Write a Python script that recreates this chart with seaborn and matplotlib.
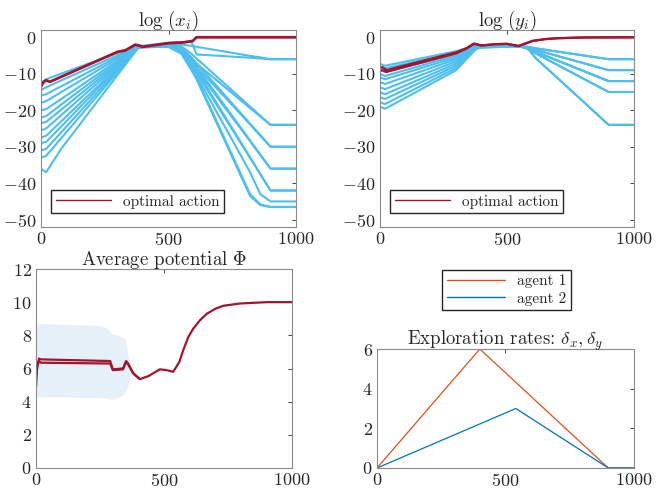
import numpy as np
import pandas as pd
import matplotlib
matplotlib.use("Agg")
import matplotlib.pyplot as plt
import seaborn as sns

# ---------------- data ----------------
RED = "#A2142F"
LBLUE = "#4DBEEE"

# top-left: log(x_i)
T_XB = [0, 20, 80, 380, 400, 500, 550, 590, 610, 820, 860, 900, 1000]
X_BLUE = [
    [-12.5, -11.5, -9.95, -2.2, -2.3, -1.5, -1.3, -1.2, -4.7, -5.6, -5.8, -6.0, -6.0],
    [-14.5, -13.7, -11.8, -2.4, -2.5, -1.8, -2.0, -2.35, -2.6, -5.1, -5.5, -6.0, -6.0],
    [-16.0, -15.6, -13.4, -2.5, -2.5, -1.9, -3.0, -6.0, -7.2, -19.4, -21.7, -24.0, -24.0],
    [-18.0, -17.5, -15.0, -2.5, -2.5, -2.0, -2.5, -4.5, -5.8, -19.0, -21.5, -24.0, -24.0],
    [-20.0, -19.7, -16.9, -2.6, -2.5, -2.1, -3.2, -6.5, -8.0, -23.9, -27.0, -30.0, -30.0],
    [-22.0, -21.6, -18.4, -2.6, -2.6, -2.2, -2.8, -5.5, -7.1, -23.7, -26.8, -30.0, -30.0],
    [-23.5, -23.2, -19.8, -2.7, -2.6, -2.3, -3.5, -7.0, -8.9, -28.5, -32.3, -36.0, -36.0],
    [-25.5, -25.0, -21.3, -2.7, -2.6, -2.4, -3.0, -6.2, -8.1, -28.3, -32.1, -36.0, -36.0],
    [-27.5, -27.0, -23.0, -2.8, -2.7, -2.5, -3.8, -7.5, -9.7, -33.1, -37.5, -42.0, -42.0],
    [-29.0, -28.7, -24.4, -2.8, -2.7, -2.5, -3.3, -6.8, -9.1, -32.9, -37.5, -42.0, -42.0],
    [-31.0, -30.6, -26.0, -2.9, -2.7, -2.6, -4.0, -8.0, -10.5, -37.0, -43.0, -45.0, -45.0],
    [-33.0, -32.5, -27.6, -3.0, -2.7, -2.6, -4.5, -9.0, -11.5, -43.5, -46.0, -46.5, -46.5],
    [-36.0, -37.0, -30.5, -3.0, -2.7, -2.6, -4.2, -8.5, -11.0, -43.0, -45.8, -46.5, -46.5],
]
T_XR = [0, 10, 20, 35, 300, 330, 370, 400, 500, 560, 595, 610, 1000]
X_RED = [-13.5, -12.3, -11.8, -12.2, -4.0, -3.6, -2.0, -2.6, -1.6, -1.4, -1.0, 0.0, 0.0]

# top-right: log(y_i)
T_YB = [0, 20, 300, 380, 400, 500, 550, 580, 610, 900, 1000]
Y_BLUE = [
    [-7.3, -7.8, -3.8, -2.2, -2.3, -2.0, -2.4, -2.6, -3.0, -6.0, -6.0],
    [-8.0, -8.5, -4.2, -2.3, -2.4, -2.1, -2.4, -2.8, -3.4, -9.0, -9.0],
    [-9.0, -9.5, -4.6, -2.4, -2.4, -2.2, -2.5, -3.0, -3.9, -12.0, -12.0],
    [-10.1, -10.6, -5.0, -2.5, -2.5, -2.3, -2.5, -3.1, -4.3, -15.0, -15.0],
    [-11.0, -11.5, -5.5, -2.6, -2.5, -2.3, -2.5, -2.8, -5.5, -24.0, -24.0],
    [-12.3, -12.8, -6.0, -2.7, -2.6, -2.4, -2.4, -2.6, -3.0, -6.0, -6.0],
    [-13.7, -14.2, -6.6, -2.8, -2.6, -2.4, -2.4, -2.8, -3.4, -9.0, -9.0],
    [-15.1, -15.6, -7.2, -2.9, -2.7, -2.5, -2.5, -3.0, -3.9, -12.0, -12.0],
    [-16.4, -16.9, -7.8, -3.0, -2.7, -2.5, -2.5, -3.1, -4.3, -15.0, -15.0],
    [-17.8, -18.3, -8.4, -3.0, -2.8, -2.6, -2.5, -2.8, -5.5, -24.0, -24.0],
    [-19.0, -19.6, -9.0, -3.1, -2.8, -2.6, -2.5, -3.0, -3.9, -12.0, -12.0],
]
T_YR = [0, 10, 25, 300, 340, 370, 400, 450, 500, 545, 600, 650, 700, 800, 1000]
Y_RED_1 = [-8.4, -8.2, -9.0, -4.1, -3.0, -1.7, -2.2, -1.9, -1.8, -2.4, -1.0, -0.5, -0.25, -0.05, 0.0]
Y_RED_2 = [-9.2, -9.0, -9.5, -4.4, -3.1, -1.8, -2.3, -1.9, -1.8, -2.4, -1.0, -0.5, -0.25, -0.05, 0.0]

# bottom-left: average potential
T_PHI = [0, 5, 12, 20, 290, 300, 340, 345, 352, 360, 380, 406, 440, 484, 510, 536,
         560, 575, 595, 614, 640, 667, 700, 731, 797, 900, 1000]
PHI = [4.9, 6.2, 6.6, 6.55, 6.45, 5.95, 6.0, 6.2, 6.45, 6.3, 5.7, 5.36, 5.55, 5.95, 5.9, 5.8,
       6.4, 7.1, 7.9, 8.4, 8.9, 9.3, 9.6, 9.78, 9.92, 10.0, 10.0]
T_PHI2 = [0, 5, 12, 20, 290, 300, 340, 345, 352, 360, 380, 406]
PHI2 = [5.6, 6.1, 6.45, 6.35, 6.3, 5.9, 5.95, 6.15, 6.4, 6.25, 5.7, 5.36]
T_BAND = [0, 3, 8, 20, 250, 280, 295, 340, 348, 352, 360, 368, 372]
BAND_HI = [6.0, 8.5, 8.7, 8.7, 8.6, 8.4, 8.1, 7.9, 7.8, 7.3, 6.7, 6.1, 5.9]
BAND_LO = [4.9, 4.4, 4.3, 4.3, 4.25, 4.2, 4.1, 4.4, 4.6, 4.7, 5.0, 5.5, 5.9]

# bottom-right: exploration rates
T_RATE = [0, 400, 540, 900, 1000]
RATE_1 = [0.0, 6.0, 4.32, 0.0, 0.0]
RATE_2 = [0.0, 2.22, 3.0, 0.0, 0.0]

# ---------------- style ----------------
sns.set_style("white")
plt.rcParams["font.family"] = ["cmr10", "DejaVu Serif"]
plt.rcParams["mathtext.fontset"] = "cm"
plt.rcParams["axes.unicode_minus"] = False
plt.rcParams["axes.formatter.use_mathtext"] = True

fig = plt.figure(figsize=(6.64, 4.93), dpi=100)
W, H = 664.0, 493.0
def add_ax(l, t, r, b):
    return fig.add_axes([l / W, 1 - b / H, (r - l) / W, (b - t) / H])

ax_tl = add_ax(41, 30, 296, 227)
ax_tr = add_ax(380, 30, 634, 227)
ax_bl = add_ax(36, 269, 292, 468)
ax_br = add_ax(377, 349, 634, 468)

TICK_FS = 13
TITLE_FS = 13.5
LEG_FS = 11

def style(ax):
    for s in ax.spines.values():
        s.set_color("#8a8a8a")
        s.set_linewidth(0.8)
        s.set_visible(True)
    ax.tick_params(direction="in", length=3, width=0.6, color="#262626",
                   top=True, right=True, labelsize=TICK_FS, labelcolor="#262626", pad=3)
    ax.set_xlim(0, 1000)
    ax.set_xticks([0, 500, 1000])
    ax.set_xlabel("")
    ax.set_ylabel("")

def line(ax, t, v, color, lw, label=None):
    sns.lineplot(x=t, y=v, ax=ax, color=color, linewidth=lw, estimator=None,
                 sort=False, label=label, legend=False)

# top-left
for v in X_BLUE:
    line(ax_tl, T_XB, v, LBLUE, 1.5)
line(ax_tl, T_XR, X_RED, RED, 2.0)
# top-right
for v in Y_BLUE:
    line(ax_tr, T_YB, v, LBLUE, 1.5)
line(ax_tr, T_YR, Y_RED_2, RED, 1.6)
line(ax_tr, T_YR, Y_RED_1, RED, 1.6)

for ax, title in [(ax_tl, r"$\log\,(x_i)$"), (ax_tr, r"$\log\,(y_i)$")]:
    style(ax)
    ax.set_ylim(-52, 2)
    ax.set_yticks([0, -10, -20, -30, -40, -50])
    ax.set_title(title, fontsize=TITLE_FS, pad=3, color="#262626")
    h = [plt.Line2D([], [], color=RED, lw=1.0)]
    ax.legend(h, ["optimal action"], loc="lower left", bbox_to_anchor=(0.04, 0.07),
              fancybox=False, edgecolor="#262626", framealpha=1, fontsize=LEG_FS,
              handlelength=3.6, borderpad=0.3, borderaxespad=0)

# bottom-left
ax_bl.fill_between(T_BAND, BAND_LO, BAND_HI, color="#e5f0f9", linewidth=0)
line(ax_bl, T_PHI2, PHI2, RED, 1.6)
line(ax_bl, T_PHI, PHI, RED, 1.6)
style(ax_bl)
ax_bl.set_ylim(0, 12)
ax_bl.set_yticks([0, 2, 4, 6, 8, 10, 12])
ax_bl.set_title(r"Average potential $\Phi$", fontsize=TITLE_FS, pad=3, color="#262626")

# bottom-right
line(ax_br, T_RATE, RATE_1, "#D95319", 0.9, label="agent 1")
line(ax_br, T_RATE, RATE_2, "#0072BD", 0.9, label="agent 2")
style(ax_br)
ax_br.set_ylim(0, 6)
ax_br.set_yticks([0, 2, 4, 6])
ax_br.set_title(r"Exploration rates: $\delta_x, \delta_y$", fontsize=TITLE_FS, pad=3, color="#262626")
handles = [plt.Line2D([], [], color="#D95319", lw=1.0), plt.Line2D([], [], color="#0072BD", lw=1.0)]
fig.legend(handles, ["agent 1", "agent 2"], loc="center", bbox_to_anchor=(506.5 / W, 1 - 290 / H),
           fancybox=False, edgecolor="#262626", framealpha=1, fontsize=LEG_FS,
           handlelength=3.8, borderpad=0.3, labelspacing=0.2)

fig.savefig("out.png", dpi=100)
